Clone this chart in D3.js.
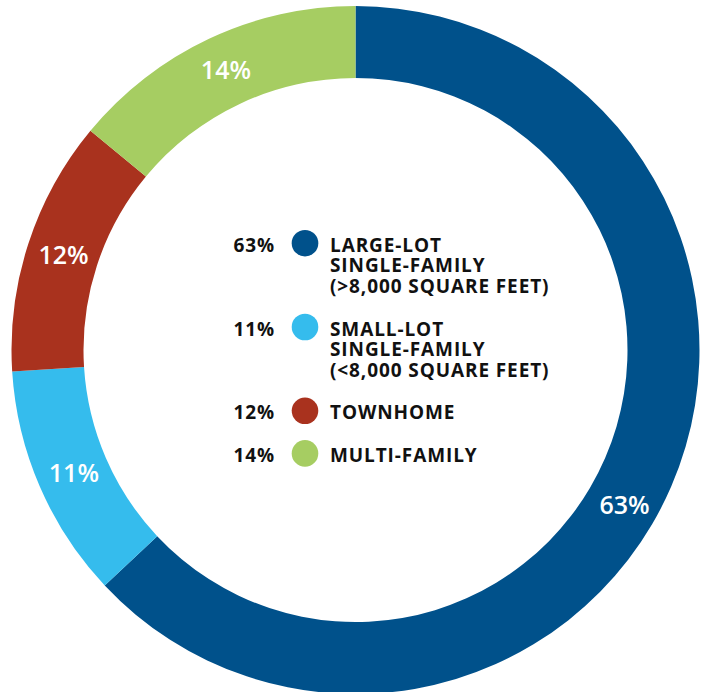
<!DOCTYPE html>
<html lang="en">
<head>
  <meta charset="UTF-8">
  <title>Housing mix donut</title>
  <script src="https://cdn.jsdelivr.net/npm/d3@7/dist/d3.min.js"></script>
  <style>
    html, body { margin: 0; padding: 0; background: #fff; }
    .chart svg { display: block; }
    text { font-family: "Open Sans", "Noto Sans", sans-serif; }
  </style>
</head>
<body>
<div class="chart"></div>
<script>
// data
const categories = ['Large-lot single-family', 'Small-lot single-family', 'Townhome', 'Multi-family'];
const legendLines = [
  ['LARGE-LOT', 'SINGLE-FAMILY', '(>8,000 SQUARE FEET)'],
  ['SMALL-LOT', 'SINGLE-FAMILY', '(<8,000 SQUARE FEET)'],
  ['TOWNHOME'],
  ['MULTI-FAMILY']
];
const values = [63, 11, 12, 14];
const colors = ['#00518b', '#35bced', '#a9321e', '#a6cd62'];

const W = 707, H = 692;
const cx = 355.5, cy = 350;
const outerR = 344, innerR = 272;

const svg = d3.select('.chart')
  .append('svg')
  .attr('width', W).attr('height', H);

const g = svg.append('g').attr('transform', `translate(${cx} ${cy})`);

const pie = d3.pie().sort(null).value(d => d.value);
const arc = d3.arc().innerRadius(innerR).outerRadius(outerR);
const data = categories.map((c, i) => ({name: c, value: values[i], color: colors[i]}));
const arcs = pie(data);

g.selectAll('path')
  .data(arcs)
  .enter().append('path')
  .attr('d', arc)
  .attr('fill', d => d.data.color);

// ring labels: centroid, except the big slice which sits lower along its arc
const labelR = (innerR + outerR) / 2 + 1;
function labelPos(d, i) {
  let a = (d.startAngle + d.endAngle) / 2;
  if (i === 0) a = d.startAngle + (d.endAngle - d.startAngle) * 0.53;
  return [Math.sin(a) * labelR, -Math.cos(a) * labelR];
}
g.selectAll('text.ring')
  .data(arcs)
  .enter().append('text')
  .attr('class', 'ring')
  .attr('x', (d, i) => labelPos(d, i)[0] + 2)
  .attr('y', (d, i) => labelPos(d, i)[1])
  .attr('dy', '0.36em')
  .attr('text-anchor', 'middle')
  .attr('fill', '#fff')
  .attr('font-size', 25)
  .attr('font-weight', 600)
  .text(d => d.data.value + '%');

// legend in the middle (one text per entry, lines as tspans)
const lineH = 20.6, groupGap = 22;
const fs = 19, ls = '0.9px';
let y = 251.7;
const legend = svg.append('g');
data.forEach((d, i) => {
  const row = legend.append('g').attr('transform', `translate(0 ${y})`);
  row.append('text')
    .attr('x', 275).attr('y', 0)
    .attr('text-anchor', 'end')
    .attr('font-size', fs).attr('font-weight', 700)
    .attr('letter-spacing', ls)
    .attr('fill', '#111')
    .text(d.value + '%');
  row.append('circle')
    .attr('cx', 305).attr('cy', -8.5)
    .attr('r', 13.3)
    .attr('fill', d.color);
  row.append('text')
    .attr('font-size', fs).attr('font-weight', 700)
    .attr('letter-spacing', ls)
    .attr('fill', '#111')
    .selectAll('tspan')
    .data(legendLines[i])
    .enter().append('tspan')
    .attr('x', 330)
    .attr('y', (t, j) => j * lineH)
    .text(t => t);
  y += legendLines[i].length * lineH + groupGap;
});
</script>
</body>
</html>
